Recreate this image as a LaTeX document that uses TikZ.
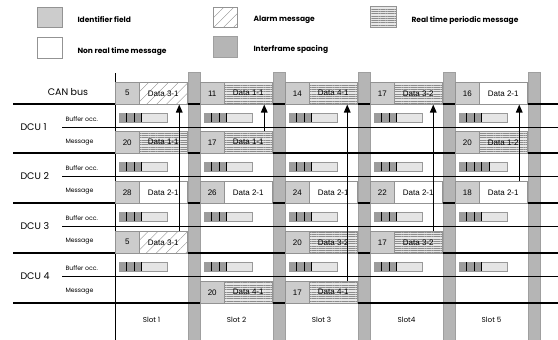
\documentclass[tikz,border=0pt]{standalone}
\usepackage{fontspec}
\setmainfont{Poppins}
\newfontfamily\arialf{Liberation Sans}
\usetikzlibrary{patterns,patterns.meta,arrows.meta}
\tikzset{
  cellbase/.style={draw=gray!85, line width=0.5pt, inner sep=0pt, anchor=north west,
    minimum height=22pt, font=\arialf\fontsize{8}{9}\selectfont},
  idbox/.style={cellbase, fill=gray!40, minimum width=24pt},
  databox/.style={cellbase, minimum width=48pt},
  nrt/.style={fill=white},
  rt/.style={preaction={fill=gray!18}, pattern={Lines[angle=0,distance=2.3pt,line width=0.35pt]}, pattern color=gray!90},
  alarm/.style={preaction={fill=white}, pattern={Lines[angle=45,distance=7pt,line width=0.35pt]}, pattern color=gray!90},
  ifs/.style={fill=gray!58, draw=gray!75, line width=0.4pt},
  thick line/.style={line width=1.1pt},
  thin line/.style={line width=0.7pt},
  legtext/.style={anchor=west, font=\fontsize{7.5}{8}\selectfont\bfseries},
  lbl/.style={font=\fontsize{9.5}{11}\selectfont},
  small lbl/.style={anchor=west, font=\fontsize{6.2}{7}\selectfont},
  slotlbl/.style={font=\fontsize{7.2}{8}\selectfont},
  arr/.style={line width=1.4pt, -{Triangle[length=8pt,width=6.5pt]}},
  bufout/.style={draw=gray!80, fill=gray!20, line width=0.5pt, inner sep=0pt, anchor=north west, minimum width=48pt, minimum height=9pt},
  bufseg/.style={fill=gray!78},
  bufdiv/.style={draw=black, line width=0.6pt},
}
\newcommand\msgcell[6]{%
  \node[idbox] (#1i) at ({115+85*(#2-1)},#3) {#4};
  \node[databox,#6] (#1d) at ({139+85*(#2-1)},#3) {#5};}
\newcommand\bufbar[4]{%
  \node[bufout] (#1) at ({119+85*(#2-1)},#3) {};
  \fill[bufseg] ({119+85*(#2-1)},#3) rectangle ++({7.5*#4},9);
  \foreach \k in {1,...,#4}{
    \draw[bufdiv] ({119+85*(#2-1)+7.5*\k},#3) -- ++(0,9);}}
\begin{document}
\begin{tikzpicture}[x=1pt,y=-1pt]
\useasboundingbox (0,0) rectangle (558,340);
% legend
\node[idbox, minimum width=25pt, minimum height=20pt] (legid) at (37,7) {};
\node[legtext] (legidt) at (74,20) {Identifier field};
\node[databox, nrt, minimum width=25pt, minimum height=21pt] (legnrt) at (37,37) {};
\node[legtext] (legnrtt) at (74,52) {Non real time message};
\node[databox, alarm, minimum width=24pt, minimum height=20pt] (legal) at (213,7) {};
\node[legtext] (legalt) at (250,20) {Alarm message};
\node[databox, ifs, minimum width=24pt, minimum height=21pt] (legifs) at (213,36) {};
\node[legtext] (legifst) at (250,50) {Interframe spacing};
\node[databox, rt, minimum width=26pt, minimum height=21pt] (legrt) at (370,6) {};
\node[legtext] (legrtt) at (408,21) {Real time periodic message};
% interframe spacing bars
\foreach \i in {0,...,4}{
  \filldraw[ifs] ({188+85*\i},72) rectangle ++(12,268);}
\draw[thin line] (115,73) -- (115,340);
% horizontal lines
\foreach \y in {104,153,203,253,303}{
  \draw[thick line] (13,\y) -- (558,\y);}
\foreach \y in {127,176,226,276}{
  \draw[thin line] (62,\y) -- (558,\y);}
% row labels
\node[lbl] (canl) at (68,92) {CAN bus};
\foreach \k/\t in {1/127,2/176,3/226,4/276}{
  \node[lbl, anchor=west] (dcu\k) at (17,\t) {DCU \k};
  \node[small lbl] (buf\k) at (62,\t-8) {Buffer occ.};
  \node[small lbl] (msg\k) at (62,\t+15) {Message};}
% CAN bus
\msgcell{c1}{1}{82}{5}{Data 3-1}{alarm}
\msgcell{c2}{2}{82}{11}{Data 1-1}{rt}
\msgcell{c3}{3}{82}{14}{Data 4-1}{rt}
\msgcell{c4}{4}{82}{17}{Data 3-2}{rt}
\msgcell{c5}{5}{82}{16}{Data 2-1}{nrt}
% DCU 1
\msgcell{a1}{1}{131}{20}{Data 1-1}{rt}
\msgcell{a2}{2}{131}{17}{Data 1-1}{rt}
\msgcell{a5}{5}{131}{20}{Data 1-2}{rt}
% DCU 2
\msgcell{b1}{1}{181}{28}{Data 2-1}{nrt}
\msgcell{b2}{2}{181}{26}{Data 2-1}{nrt}
\msgcell{b3}{3}{181}{24}{Data 2-1}{nrt}
\msgcell{b4}{4}{181}{22}{Data 2-1}{nrt}
\msgcell{b5}{5}{181}{18}{Data 2-1}{nrt}
% DCU 3
\msgcell{e1}{1}{231}{5}{Data 3-1}{alarm}
\msgcell{e3}{3}{231}{20}{Data 3-2}{rt}
\msgcell{e4}{4}{231}{17}{Data 3-2}{rt}
% DCU 4
\msgcell{f2}{2}{281}{20}{Data 4-1}{rt}
\msgcell{f3}{3}{281}{17}{Data 4-1}{rt}
% buffer bars
\foreach \s in {1,...,5}{
  \bufbar{ba\s}{\s}{113}{3}
  \bufbar{be\s}{\s}{212}{3}
  \bufbar{bf\s}{\s}{262}{3}}
\foreach \s in {1,...,4}{
  \bufbar{bb\s}{\s}{162}{3}}
\bufbar{bb5}{5}{162}{4}
% arrows
\draw[arr] ([xshift=16pt]e1d.north) -- ([xshift=16pt]c1d.south);
\draw[arr] ([xshift=16pt]a2d.north) -- ([xshift=16pt]c2d.south);
\draw[arr] ([xshift=14pt]f3d.north) -- ([xshift=14pt]c3d.south);
\draw[arr] ([xshift=15pt]e4d.north) -- ([xshift=15pt]c4d.south);
\draw[arr] ([xshift=16pt]b5d.north) -- ([xshift=16pt]c5d.south);
% slot labels
\node[slotlbl] (s1) at (151.5,320) {Slot 1};
\node[slotlbl] (s2) at (236.5,320) {Slot 2};
\node[slotlbl] (s3) at (321.5,320) {Slot 3};
\node[slotlbl] (s4) at (406.5,320) {Slot4};
\node[slotlbl] (s5) at (491.5,320) {Slot 5};
\end{tikzpicture}
\end{document}
